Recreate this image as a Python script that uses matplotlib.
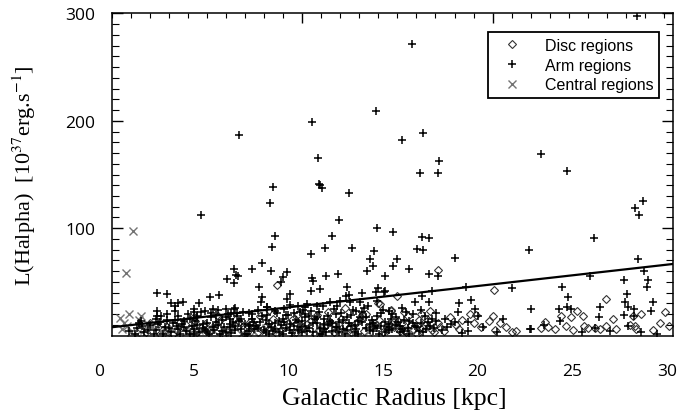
import numpy as np
import matplotlib
matplotlib.use("Agg")
import matplotlib.pyplot as plt
from matplotlib.lines import Line2D

plt.rcParams["mathtext.fontset"] = "stix"

# ---------- data ---------- #
arm_x = [7.40, 11.24, 11.55, 14.62, 16.55, 28.40, 17.13, 16.02, 17.98, 16.96, 17.92, 23.33, 24.74,
         5.39, 9.21, 9.05, 11.60, 11.70, 11.80, 13.19, 12.66, 14.67, 9.32, 9.16, 12.33, 11.96, 13.38,
         11.18, 14.53, 14.32, 14.46, 14.14, 15.09, 8.61, 8.06, 7.15, 7.24, 7.36, 6.74, 7.15, 9.09,
         9.93, 9.70, 9.59, 11.24, 11.32, 11.99, 12.63, 8.44, 8.60, 8.56, 10.09, 9.91, 11.22, 11.67,
         13.08, 13.05, 13.20, 13.87, 14.62, 14.74, 15.13, 3.08, 3.61, 5.30, 5.86, 6.36, 3.79, 4.19,
         4.45, 4.01, 3.08, 3.08, 3.61, 5.02, 5.16, 5.60, 6.71, 7.13, 7.27, 7.94, 8.86, 10.09, 10.53,
         10.97, 11.50, 11.85, 12.20, 12.73, 13.26, 13.79, 14.67,
         15.55, 17.08, 17.43, 16.81, 17.13, 15.76, 15.51, 16.39, 17.45, 17.92, 18.81, 22.73, 26.15,
         28.31, 28.53, 28.75, 28.45, 28.80, 29.02, 28.93, 27.75, 25.94, 24.44, 24.79, 21.80, 19.39,
         19.63, 15.06, 17.57, 17.05, 16.69, 17.45, 19.88, 18.96, 19.49, 21.34, 22.84, 22.75, 27.91,
         27.77, 29.28, 29.18, 27.95, 28.26, 27.72, 28.26, 26.45, 26.41, 24.74, 24.92, 24.28, 24.37,
         22.80, 28.65, 27.95, 29.50,
         1.6, 2.0, 2.4, 2.7, 3.0, 3.2, 3.5, 3.8, 4.0, 4.2, 4.4, 4.6, 4.9, 5.1, 5.3, 5.5, 5.7, 5.9,
         6.1, 6.3, 6.5, 6.7, 6.9, 7.1, 7.3, 7.5, 7.7, 7.9, 8.1, 8.3, 8.5, 8.7, 8.9, 9.1, 9.3, 9.5,
         9.7, 9.9, 10.1, 10.3, 10.5, 10.7, 10.9, 11.1, 11.3, 11.5, 11.7, 11.9, 12.1, 12.3, 12.5, 12.7,
         12.9, 13.1, 13.3, 13.5, 13.7, 13.9, 14.1, 14.3, 14.5, 14.7, 14.9, 15.1, 15.3, 15.5, 15.7,
         15.9, 16.1, 16.3, 16.6, 16.9, 17.2, 17.5, 17.8, 18.1, 18.6,
         2.2, 3.3, 4.7, 5.4, 6.0, 6.8, 7.6, 8.4, 9.4, 10.0, 10.8, 11.6, 12.4, 13.4, 14.0, 15.0, 16.2,
         17.0, 5.0, 6.4, 7.8, 9.0, 10.2, 11.8, 13.0, 14.8, 16.4,
         19.5, 20.3, 21.0, 23.5, 25.5, 26.2, 27.0, 19.0, 20.0,
         3.9, 4.3, 4.8, 5.2, 5.6, 6.2, 6.6, 7.0, 7.4, 8.0, 8.2, 8.8, 9.2, 9.6, 10.4, 10.6, 11.0, 11.4,
         11.9, 12.2, 12.6, 13.2, 13.6, 13.8, 14.4, 14.6, 15.2, 15.4, 15.8, 16.0, 16.7, 17.1, 17.4,
         17.7, 18.3, 2.9, 3.6, 4.5, 5.8, 6.9, 7.2, 9.8, 10.9, 12.0,
         1.9, 2.3, 2.6, 3.1, 3.4, 3.7, 4.1, 4.5, 4.8, 5.0, 5.2, 5.5, 5.7, 6.0, 6.2, 6.5, 6.7, 6.9,
         7.2, 7.5, 7.7, 7.9, 8.2, 8.4, 8.6, 8.8, 9.0, 9.3, 9.5, 9.7, 9.9, 10.1, 10.3, 10.5, 10.7,
         10.9, 11.1, 11.3, 11.5, 11.7, 11.9, 12.1, 12.3, 12.5, 12.7, 12.9, 13.1, 13.3, 13.5, 13.7,
         13.9, 14.1, 14.3, 14.5, 14.7, 14.9, 15.1, 15.3, 15.5, 15.7, 15.9, 16.1, 16.4, 16.8, 17.0,
         17.3, 17.6, 2.1, 3.0, 4.2, 5.9, 7.0, 8.1, 9.3, 10.6, 11.2, 12.8, 13.6, 15.3, 16.6, 17.8,
         18.4, 18.8, 19.2, 4.0, 5.0, 6.3, 7.2, 8.9, 9.8, 10.9, 12.6, 14.2, 16.0]
arm_y = [186.8, 199.1, 165.1, 209.4, 271.4, 297.2, 188.6, 182.1, 162.3, 151.4, 151.4, 168.8, 153.0,
         112.6, 138.1, 123.2, 141.4, 140.0, 137.7, 132.5, 107.9, 99.9, 93.1, 82.2, 92.8, 81.6, 81.6,
         75.7, 79.1, 71.1, 65.1, 60.2, 55.3, 67.9, 62.1, 62.1, 56.5, 55.3, 52.8, 49.0, 59.9,
         59.0, 54.3, 50.2, 53.4, 51.2, 55.3, 57.1, 45.6, 36.3, 31.1, 39.1, 34.1, 41.3, 43.5,
         45.6, 37.2, 37.9, 40.0, 40.4, 44.1, 41.3, 39.5, 38.5, 30.4, 35.7, 37.9, 30.4, 30.4,
         31.6, 27.9, 23.3, 18.6, 20.2, 21.8, 18.6, 23.3, 24.8, 24.8, 21.1, 21.1, 26.4, 28.6, 27.9,
         29.5, 27.4, 27.9, 31.6, 32.6, 31.1, 31.6, 32.6,
         96.8, 91.8, 90.9, 80.7, 79.7, 71.4, 64.6, 62.1, 57.1, 55.3, 72.0, 79.7, 90.9,
         118.5, 112.6, 125.1, 71.4, 59.9, 51.8, 45.6, 51.8, 55.8, 45.0, 36.3, 44.1, 45.0,
         33.2, 40.9, 41.9, 37.2, 31.1, 31.1, 24.8, 21.8, 13.0, 15.5, 24.8, 6.2, 38.8,
         31.1, 31.1, 23.3, 26.4, 24.8, 19.3, 18.0, 26.4, 17.1, 26.4, 24.8, 24.8, 14.0,
         6.2, 3.2, 8.7, 2.0,
         4, 7, 3, 10, 5, 13, 8, 3, 15, 6, 11, 4, 9, 14, 3, 7, 12, 17,
         5, 10, 15, 3, 8, 13, 18, 6, 11, 4, 16, 9, 13, 5, 19, 8, 12, 3,
         16, 7, 11, 21, 5, 14, 9, 18, 3, 12, 7, 16, 10, 4, 20, 13,
         6, 17, 9, 3, 14, 22, 7, 11, 4, 18, 9, 13, 5, 20, 10,
         3, 15, 7, 12, 4, 18, 9, 14, 5, 11,
         14, 18, 20, 22, 25, 20, 22, 24, 21, 19, 24, 22, 25, 24, 26, 24, 22,
         24, 2, 1.5, 2, 1.5, 2.5, 1.5, 2, 1.5, 2,
         4, 8, 3, 10, 3, 7, 4, 30, 18,
         12, 2, 16, 10, 5, 19, 8, 2.5, 14, 10, 6, 15, 4, 10, 15, 8, 4, 16,
         11, 14, 8, 12, 6, 17, 15, 9, 8, 16, 13, 6, 9, 3, 13,
         7, 16, 2, 15, 8, 2, 16, 9, 13, 17, 3,
         2, 9, 5, 11, 2, 7, 9, 14, 2, 6, 17, 11, 3, 8, 13, 4, 17, 11,
         5, 16, 2, 9, 13, 7, 18, 3, 11, 6, 14, 2, 19, 5, 9, 13, 3,
         20, 7, 12, 17, 2, 6, 18, 12, 8, 3, 15, 5, 19, 10, 2,
         13, 17, 5, 12, 7, 21, 3, 11, 6, 17, 9, 4, 14, 8, 12,
         6, 16, 12, 16, 18, 21, 21, 20, 23, 22, 23, 21, 23, 23, 20, 21,
         8, 13, 2.5, 23, 25, 24, 26, 27, 25, 27, 28, 28, 26]

disc_x = [9.39, 17.89, 14.75, 14.83, 15.41, 12.98, 15.72, 20.88, 15.41, 17.47, 18.53, 19.58, 19.93,
          18.88, 20.81, 21.17, 22.03, 26.80, 25.27, 25.57, 24.95, 24.42, 27.15, 28.21, 28.65, 29.91,
          29.62, 30.10, 29.27, 27.33, 26.80, 26.45, 26.22, 25.83, 25.62, 25.04, 24.69, 24.07, 23.72,
          23.33, 23.58, 28.03, 28.29, 28.38,
          19.2, 19.8, 20.2, 20.6, 21.5, 19.0, 18.2, 21.8, 20.9,
          16.0, 16.3, 16.6, 16.9, 17.2, 17.6, 17.9, 15.6, 15.9, 17.0,
          2.5, 3.0, 3.4, 3.9, 4.3, 4.8, 5.2, 5.6, 6.0, 6.4, 6.8, 7.2, 7.6, 8.0, 8.4, 8.8, 9.2, 9.6,
          10.0, 10.4, 10.8, 11.2, 11.6, 12.0, 12.4, 12.8, 13.2, 13.6, 14.0, 14.4, 14.8, 15.2, 15.5,
          9.0, 10.5, 12.1, 13.9, 7.0, 5.0,
          2.2, 2.7, 3.2, 3.6, 4.1, 4.6, 5.1, 5.4, 5.8, 6.2, 6.6, 7.0, 7.4, 7.8, 8.2, 8.6, 9.0, 9.4,
          9.8, 10.2, 10.6, 11.0, 11.4, 11.8, 12.2, 12.6, 13.0, 13.4, 13.8, 14.2, 14.6, 15.0, 15.4,
          15.8, 16.2, 16.5, 16.8, 17.1, 17.4, 17.7, 18.0, 8.5, 11.5, 14.1, 16.1, 6.3]
disc_y = [47.2, 61.4, 30.4, 29.5, 23.3, 25.8, 37.2, 42.8, 24.2, 23.3, 17.7, 20.2, 19.3,
          10.0, 18.0, 11.8, 4.7, 34.1, 23.3, 18.6, 17.1, 18.6, 15.5, 18.0, 20.2, 22.3,
          11.8, 8.7, 5.6, 6.2, 8.7, 6.2, 6.9, 6.9, 8.7, 5.6, 8.7, 6.2, 7.8,
          6.9, 12.5, 10.0, 8.7, 6.2,
          15, 12, 8, 14, 8, 6, 4, 3, 5,
          12, 18, 6, 15, 10, 5, 12, 8, 4, 20,
          3, 9, 5, 2, 13, 6, 3, 11, 7, 15, 4, 10, 6, 13, 3, 9, 16, 5,
          12, 3, 8, 14, 5, 10, 3, 16, 7, 12, 4, 9, 15, 5, 11,
          24, 20, 22, 19, 18, 17,
          6, 12, 2, 8, 4, 10, 14, 7, 4, 11, 2, 7, 13, 3, 9, 5, 12, 2,
          8, 15, 5, 11, 2, 7, 13, 5, 10, 2, 15, 7, 12, 3, 9,
          14, 3, 10, 2, 7, 15, 3, 8, 18, 19, 20, 22, 18]

central_x = [1.81, 1.41, 1.09, 2.11, 1.2, 1.5, 1.7, 2.4, 2.8, 3.3, 3.9, 4.6, 5.3, 6.1, 7.0, 8.2,
             9.5, 10.8, 12.5, 14.2, 16.4, 17.5,
             1.3, 2.0, 2.6, 3.6, 4.2, 5.0, 5.8, 6.6, 7.5, 8.8, 10.2, 11.6, 13.4, 15.2, 2.2, 1.6]
central_y = [97.4, 58.1, 16.5, 14.6, 6, 9, 3, 5, 8, 4, 6, 3, 5, 4, 6, 3, 5, 4, 6, 3, 5, 8,
             12, 2, 11, 2, 9, 2, 8, 3, 2, 7, 2, 8, 2, 7, 18, 20]

fit_x = [0.75, 30.3]
fit_y = [8.0, 66.7]

xtick_vals = [0, 5, 10, 15, 20, 25, 30]
ytick_vals = [100, 200, 300]

# ---------- figure ---------- #
fig = plt.figure(figsize=(6.8, 4.14), dpi=100)
ax = fig.add_axes([112/680, 1 - 336.7/414, 561/680, 322.4/414])

ax.plot(disc_x, disc_y, ls="none", marker="D", ms=3.6, mfc="none", mec="0.2", mew=0.8)
ax.plot(central_x, central_y, ls="none", marker="x", ms=5.5, color="0.45", mew=1.0)
ax.plot(arm_x, arm_y, ls="none", marker="+", ms=6, color="black", mew=1.1)
ax.plot(fit_x, fit_y, color="black", lw=1.6)

ax.set_xlim(0.69, 30.32)
ax.set_ylim(0, 300)

# ticks: inward on left/right/top, none at the bottom
ax.set_yticks(ytick_vals)
ax.set_yticks(np.arange(10, 300, 10), minor=True)
ax.set_xticks([10.74, 20.79])
ax.set_xticks(np.arange(0.69, 30.3, 1.005), minor=True)
ax.tick_params(axis="x", which="both", direction="in", bottom=False, top=True,
               labelbottom=False, labeltop=False)
ax.tick_params(axis="x", which="major", length=7, width=1)
ax.tick_params(axis="x", which="minor", length=3.5, width=0.8)
ax.tick_params(axis="y", which="both", direction="in", left=True, right=True)
ax.tick_params(axis="y", which="major", length=8, width=1, pad=12)
ax.tick_params(axis="y", which="minor", length=5, width=0.8)
for lab in ax.get_yticklabels():
    lab.set_fontfamily("Open Sans")
    lab.set_fontsize(12.5)

for s in ax.spines.values():
    s.set_linewidth(1.1)

# x tick labels sit a little to the left of the data axis in the original
for v in xtick_vals:
    ax.text(v, -0.11, str(v), transform=ax.get_xaxis_transform(), ha="center", va="center",
            fontsize=12.5, family="Open Sans", clip_on=False)

fig.text(394/680, 1 - 399/414, "Galactic Radius [kpc]", ha="center", va="center",
         fontsize=18.5, family="Liberation Serif")
fig.text(24/680, 1 - 176/414, r"L(Halpha)  [10$^{37}$erg.s$^{-1}$]", rotation=90,
         ha="center", va="center", fontsize=16, family="Liberation Serif")

handles = [
    Line2D([], [], ls="none", marker="D", ms=3.6, mfc="none", mec="0.2", mew=0.8),
    Line2D([], [], ls="none", marker="+", ms=6, color="black", mew=1.1),
    Line2D([], [], ls="none", marker="x", ms=5.5, color="0.45", mew=1.0),
]
leg = ax.legend(handles, ["Disc regions", "Arm regions", "Central regions"],
                loc="upper right", bbox_to_anchor=(0.9756, 0.941), borderaxespad=0,
                fancybox=False, framealpha=1, edgecolor="black", handlelength=2.3,
                handletextpad=0.9, labelspacing=0.3, borderpad=0.35,
                prop={"family": "Liberation Sans", "size": 11.5})
leg.get_frame().set_linewidth(1.3)

fig.savefig("out.png", dpi=100)
